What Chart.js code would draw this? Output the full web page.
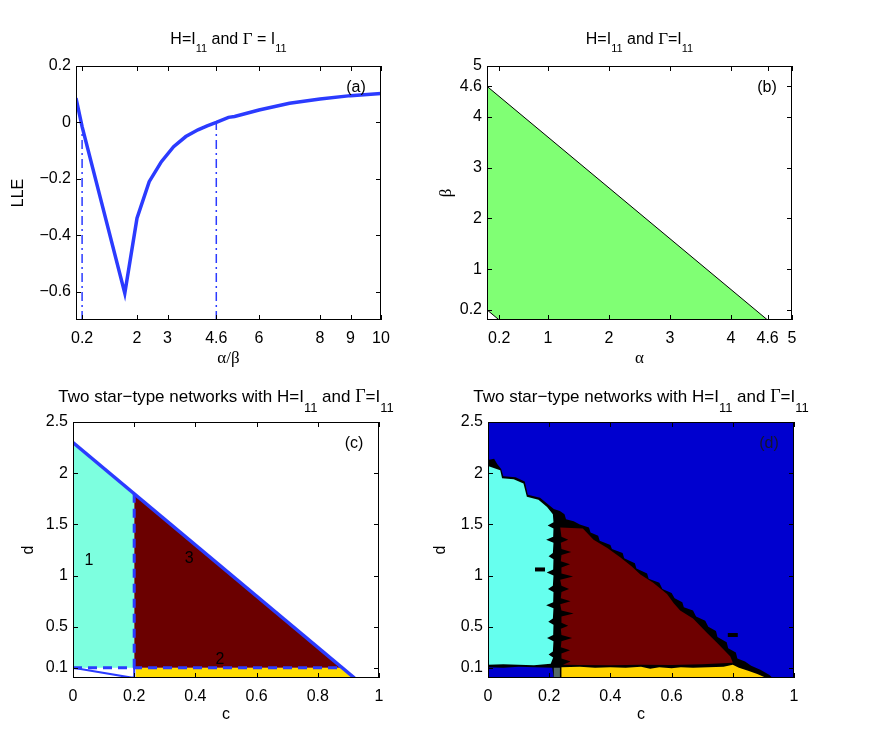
<!DOCTYPE html>
<html>
<head>
<meta charset="utf-8">
<script src="https://cdn.jsdelivr.net/npm/chart.js@4.4.1/dist/chart.umd.min.js"></script>
<style>
  body { margin:0; background:#fff; width:872px; height:730px; position:relative; overflow:hidden; }
  canvas { position:absolute; }
</style>
</head>
<body>
<canvas id="ca" width="436" height="370" style="left:0;top:0"></canvas>
<canvas id="cb" width="436" height="370" style="left:436px;top:0"></canvas>
<canvas id="cc" width="436" height="360" style="left:0;top:370px"></canvas>
<canvas id="cd" width="444" height="360" style="left:428px;top:370px"></canvas>
<script>
// ---- (a) LLE against alpha/beta ----
const ratio = [0, 0.2, 1.6, 2, 2.4, 2.8, 3.2, 3.6, 4.0, 4.3, 4.6, 5, 5.2, 6, 7, 8, 9, 10];
const lle   = [0.086, -0.015, -0.605, -0.339, -0.21, -0.139, -0.086, -0.05, -0.026, -0.012, 0, 0.018, 0.021, 0.044, 0.068, 0.083, 0.095, 0.103];
const markA = [0.2, 4.6];          // dash-dot verticals
const markTop = [-0.03, 0];
const xTicksA = [0.2, 2, 3, 4.6, 6, 8, 9, 10];
const yTicksA = [-0.6, -0.4, -0.2, 0, 0.2];

// ---- (b) stable region in alpha-beta plane ----
const greenB = [[0, 0.2], [0, 4.6], [4.6, 0], [0.2, 0]];
const ticksB = [0.2, 1, 2, 3, 4, 4.6, 5];

// ---- (c) predicted regions ----
const cyanC   = [[0, 0.1], [0, 2.3], [0.2, 1.8], [0.2, 0.1]];
const redC    = [[0.2, 0.1], [0.2, 1.8], [0.88, 0.1]];
const yellowC = [[0.205, 0], [0.205, 0.1], [0.88, 0.1], [0.92, 0]];
const edgeC   = [[0, 2.3], [0.92, 0]];
const vDashC  = [[0.2, 0.1], [0.2, 1.8]];
const hDashC  = [[0, 0.1], [0.87, 0.1]];
const cornerC = [[0, 0.1], [0.19, 0.004], [0.2, 0.004], [0.2, 0.1]];
const labelsC = [['1', 0.052, 1.15], ['3', 0.38, 1.17], ['2', 0.48, 0.18]];

// ---- (d) numerical regions ----
const domainD = [[0, 0], [0, 2.5], [1, 2.5], [1, 0]];
const edgeD = [[0, 0.105], [0, 2.13], [0.02, 2.14], [0.03, 2.09], [0.043, 2.04], [0.05, 1.97], [0.09, 1.96],
  [0.12, 1.92], [0.13, 1.79], [0.17, 1.76], [0.195, 1.70], [0.215, 1.65], [0.235, 1.63], [0.25, 1.60],
  [0.255, 1.55], [0.28, 1.53], [0.30, 1.50], [0.33, 1.47], [0.335, 1.42], [0.36, 1.39], [0.365, 1.34],
  [0.40, 1.30], [0.405, 1.26], [0.44, 1.22], [0.445, 1.17], [0.48, 1.12], [0.485, 1.07], [0.52, 1.02],
  [0.525, 0.97], [0.56, 0.93], [0.57, 0.87], [0.60, 0.83], [0.61, 0.78], [0.635, 0.74], [0.64, 0.69],
  [0.67, 0.66], [0.68, 0.60], [0.71, 0.56], [0.72, 0.50], [0.745, 0.46], [0.75, 0.40], [0.78, 0.35],
  [0.785, 0.29], [0.81, 0.25], [0.815, 0.19], [0.84, 0.16], [0.86, 0.12], [0.89, 0.08], [0.92, 0.03],
  [0.93, 0], [0.215, 0], [0.21, 0.10], [0.1, 0.11], [0.05, 0.10]];
const cyanD = [[0, 0.13], [0, 2.07], [0.040, 2.03], [0.046, 1.95], [0.084, 1.94], [0.116, 1.90], [0.127, 1.77],
  [0.165, 1.74], [0.193, 1.67], [0.212, 1.60], [0.214, 1.52], [0.195, 1.49], [0.214, 1.46], [0.213, 1.38],
  [0.19, 1.35], [0.214, 1.32], [0.212, 1.22], [0.198, 1.19], [0.214, 1.16], [0.213, 1.06], [0.192, 1.03],
  [0.214, 1.0], [0.212, 0.90], [0.196, 0.87], [0.214, 0.84], [0.213, 0.74], [0.19, 0.71], [0.214, 0.68],
  [0.212, 0.58], [0.197, 0.55], [0.214, 0.52], [0.213, 0.42], [0.193, 0.39], [0.214, 0.36], [0.212, 0.26],
  [0.198, 0.23], [0.213, 0.20], [0.205, 0.14], [0.15, 0.125], [0.10, 0.13], [0.05, 0.135]];
const redD = [[0.245, 0.13], [0.27, 0.16], [0.24, 0.19], [0.24, 0.24], [0.268, 0.27], [0.238, 0.30],
  [0.24, 0.36], [0.275, 0.39], [0.24, 0.42], [0.238, 0.48], [0.262, 0.51], [0.24, 0.54], [0.24, 0.60],
  [0.28, 0.63], [0.24, 0.66], [0.236, 0.72], [0.27, 0.75], [0.238, 0.78], [0.24, 0.84], [0.265, 0.87],
  [0.24, 0.90], [0.236, 0.96], [0.278, 0.99], [0.24, 1.02], [0.24, 1.08], [0.268, 1.11], [0.238, 1.14],
  [0.24, 1.20], [0.272, 1.23], [0.24, 1.26], [0.238, 1.32], [0.262, 1.35], [0.24, 1.38], [0.236, 1.47],
  [0.31, 1.46], [0.345, 1.35], [0.39, 1.27], [0.432, 1.18], [0.47, 1.09], [0.498, 1.01], [0.54, 0.93],
  [0.585, 0.82], [0.607, 0.73], [0.628, 0.66], [0.67, 0.58], [0.716, 0.44], [0.75, 0.34], [0.792, 0.21],
  [0.80, 0.15], [0.70, 0.135], [0.60, 0.128], [0.50, 0.13], [0.40, 0.125], [0.30, 0.128]];
const yellowD = [[0.24, 0], [0.24, 0.105], [0.30, 0.11], [0.35, 0.10], [0.40, 0.105], [0.45, 0.10], [0.50, 0.11],
  [0.53, 0.09], [0.56, 0.105], [0.60, 0.095], [0.63, 0.105], [0.67, 0.10], [0.72, 0.105], [0.77, 0.11],
  [0.80, 0.13], [0.82, 0.10], [0.85, 0.07], [0.88, 0.04], [0.91, 0]];
const greyD = [[0.215, 0], [0.215, 0.1], [0.235, 0.1], [0.235, 0]];
const islandsD = [[0.17, 1.06], [0.80, 0.42]];
const ticksCx = [0, 0.2, 0.4, 0.6, 0.8, 1];
const ticksCy = [0.1, 0.5, 1, 1.5, 2, 2.5];

const SANS = "'Liberation Sans', Arial, sans-serif";
const SERIF = "'Liberation Serif', 'Times New Roman', serif";
const BLUE = '#2b3bff';

function pts(list) { return list.map(p => ({ x: p[0], y: p[1] })); }
function closed(list) { return pts(list.concat([list[0]])); }
function fmt(v) { return v < 0 ? '\u2212' + (-v) : String(v); }

function poly(list, color, border, bw) {
  return { data: closed(list), showLine: true, pointRadius: 0, tension: 0, fill: 'shape',
           backgroundColor: color, borderColor: border || color, borderWidth: bw || 0 };
}
function line(list, color, bw, dash) {
  return { data: pts(list), showLine: true, pointRadius: 0, tension: 0, fill: false,
           borderColor: color, borderWidth: bw, borderDash: dash || [] };
}

// text and framing that is not part of the data
const extras = {};

const frame = {
  id: 'frame',
  afterDatasetsDraw(chart) {
    const { ctx, chartArea: a, scales: { x, y } } = chart;
    ctx.save();
    ctx.strokeStyle = '#000';
    ctx.lineWidth = 1;
    ctx.strokeRect(a.left + 0.5, a.top + 0.5, a.right - a.left - 1, a.bottom - a.top - 1);
    ctx.beginPath();
    x.ticks.forEach(t => {
      const p = Math.round(x.getPixelForValue(t.value)) + 0.5;
      ctx.moveTo(p, a.bottom); ctx.lineTo(p, a.bottom - 5);
      ctx.moveTo(p, a.top); ctx.lineTo(p, a.top + 5);
    });
    y.ticks.forEach(t => {
      const p = Math.round(y.getPixelForValue(t.value)) + 0.5;
      ctx.moveTo(a.left, p); ctx.lineTo(a.left + 5, p);
      ctx.moveTo(a.right, p); ctx.lineTo(a.right - 5, p);
    });
    ctx.stroke();
    ctx.restore();
  },
  afterDraw(chart) {
    const e = extras[chart.canvas.id];
    if (!e) return;
    const { ctx, chartArea: a, scales: { x, y } } = chart;
    ctx.save();
    ctx.fillStyle = '#000';
    // heading with subscripts
    const fonts = [e.size + 'px ' + SANS, e.sub + 'px ' + SANS, (e.size + 1) + 'px ' + SERIF];
    let total = 0;
    e.title.forEach(p => { ctx.font = fonts[p[1]]; total += ctx.measureText(p[0]).width; });
    let cx = (a.left + a.right) / 2 - total / 2;
    ctx.textBaseline = 'alphabetic';
    e.title.forEach(p => {
      ctx.font = fonts[p[1]];
      ctx.fillText(p[0], cx, e.titleY + (p[1] === 1 ? e.drop : 0));
      cx += ctx.measureText(p[0]).width;
    });
    // panel tag
    ctx.font = '16px ' + SANS;
    ctx.textAlign = 'center';
    ctx.textBaseline = 'middle';
    ctx.fillStyle = e.tagColor || '#000';
    ctx.fillText(e.tag, a.right - 25, a.top + 22);
    ctx.fillStyle = '#000';
    (e.notes || []).forEach(n => ctx.fillText(n[0], x.getPixelForValue(n[1]), y.getPixelForValue(n[2])));
    ctx.restore();
  }
};
Chart.register(frame);

function panel(id, box, area, xs, ys, datasets) {
  const [x0, y0, w, h] = box;
  const [L, T, R, B] = area;
  const tickFont = { family: SANS, size: 16 };
  new Chart(document.getElementById(id), {
    type: 'scatter',
    data: { datasets },
    options: {
      responsive: false,
      animation: false,
      events: [],
      layout: { padding: { left: 0, top: T - y0, right: x0 + w - R, bottom: 0 } },
      plugins: { legend: { display: false }, tooltip: { enabled: false } },
      scales: {
        x: {
          type: 'linear', min: xs.min, max: xs.max,
          afterBuildTicks: s => { s.ticks = xs.ticks.map(v => ({ value: v })); },
          afterFit: s => { s.height = y0 + h - B; },
          grid: { display: false, drawTicks: false }, border: { display: false },
          ticks: { padding: 9, color: '#000', font: tickFont, autoSkip: false, maxRotation: 0, callback: v => fmt(v) },
          title: { display: true, text: xs.title, color: '#000', font: xs.font, padding: { top: 0, bottom: xs.pad } }
        },
        y: {
          type: 'linear', min: ys.min, max: ys.max,
          afterBuildTicks: s => { s.ticks = ys.ticks.map(v => ({ value: v })); },
          afterFit: s => { s.width = L - x0; },
          grid: { display: false, drawTicks: false }, border: { display: false },
          ticks: { padding: 5, color: '#000', font: tickFont, autoSkip: false, callback: v => fmt(v) },
          title: { display: true, text: ys.title, color: '#000', font: ys.font, padding: { top: ys.pad, bottom: 0 } }
        }
      }
    }
  });
}

const sans16 = { family: SANS, size: 16 };
const serif17 = { family: SERIF, size: 17 };

extras.ca = { title: [['H=I', 0], ['11', 1], [' and ', 0], ['\u0393', 2], [' = I', 0], ['11', 1]],
              size: 16, sub: 11, drop: 8, titleY: 44, tag: '(a)' };
extras.cb = { title: [['H=I', 0], ['11', 1], [' and ', 0], ['\u0393', 2], ['=I', 0], ['11', 1]],
              size: 16, sub: 11, drop: 8, titleY: 44, tag: '(b)' };
const starTitle = [['Two star\u2212type networks with H=I', 0], ['11', 1], [' and ', 0], ['\u0393', 2], ['=I', 0], ['11', 1]];
extras.cc = { title: starTitle, size: 17, sub: 13, drop: 10, titleY: 32, tag: '(c)', notes: labelsC };
extras.cd = { title: starTitle, size: 17, sub: 13, drop: 10, titleY: 32, tag: '(d)', tagColor: '#14142e' };

panel('ca', [0, 0, 436, 370], [76, 66, 381, 320],
  { min: 0, max: 10, ticks: xTicksA, title: '\u03b1/\u03b2', font: serif17, pad: 1 },
  { min: -0.7, max: 0.2, ticks: yTicksA, title: 'LLE', font: sans16, pad: 9 },
  [
    line(ratio.map((r, i) => [r, lle[i]]), BLUE, 3.5),
    line([[markA[0], -0.7], [markA[0], markTop[0]]], BLUE, 1.5, [9, 4, 2, 4]),
    line([[markA[1], -0.7], [markA[1], markTop[1]]], BLUE, 1.5, [9, 4, 2, 4])
  ]);

panel('cb', [436, 0, 436, 370], [487, 66, 792, 320],
  { min: 0, max: 5, ticks: ticksB, title: '\u03b1', font: serif17, pad: 1 },
  { min: 0, max: 5, ticks: ticksB, title: '\u03b2', font: serif17, pad: 0 },
  [ poly(greenB, '#80ff74', '#000', 1) ]);

panel('cc', [0, 370, 436, 360], [73, 422, 379, 678],
  { min: 0, max: 1, ticks: ticksCx, title: 'c', font: sans16, pad: 6 },
  { min: 0, max: 2.5, ticks: ticksCy, title: 'd', font: sans16, pad: 19 },
  [
    line(edgeC, BLUE, 3.5),
    line(vDashC, BLUE, 3, [9, 6]),
    line(hDashC, BLUE, 3, [9, 6]),
    line(cornerC, BLUE, 2),
    poly(cyanC, '#7dffdf'),
    poly(redC, '#6b0000'),
    poly(yellowC, '#ffdd00')
  ]);

panel('cd', [428, 370, 444, 360], [488, 422, 794, 678],
  { min: 0, max: 1, ticks: ticksCx, title: 'c', font: sans16, pad: 6 },
  { min: 0, max: 2.5, ticks: ticksCy, title: 'd', font: sans16, pad: 3 },
  [
    { data: pts(islandsD), pointStyle: 'line', pointRadius: 5, borderWidth: 4, borderColor: '#000', showLine: false },
    poly(cyanD, '#66ffee'),
    poly(redD, '#6e0000'),
    poly(yellowD, '#ffd200'),
    poly(greyD, '#556a66'),
    poly(edgeD, '#000'),
    poly(domainD, '#0000cf')
  ]);
</script>
</body>
</html>
